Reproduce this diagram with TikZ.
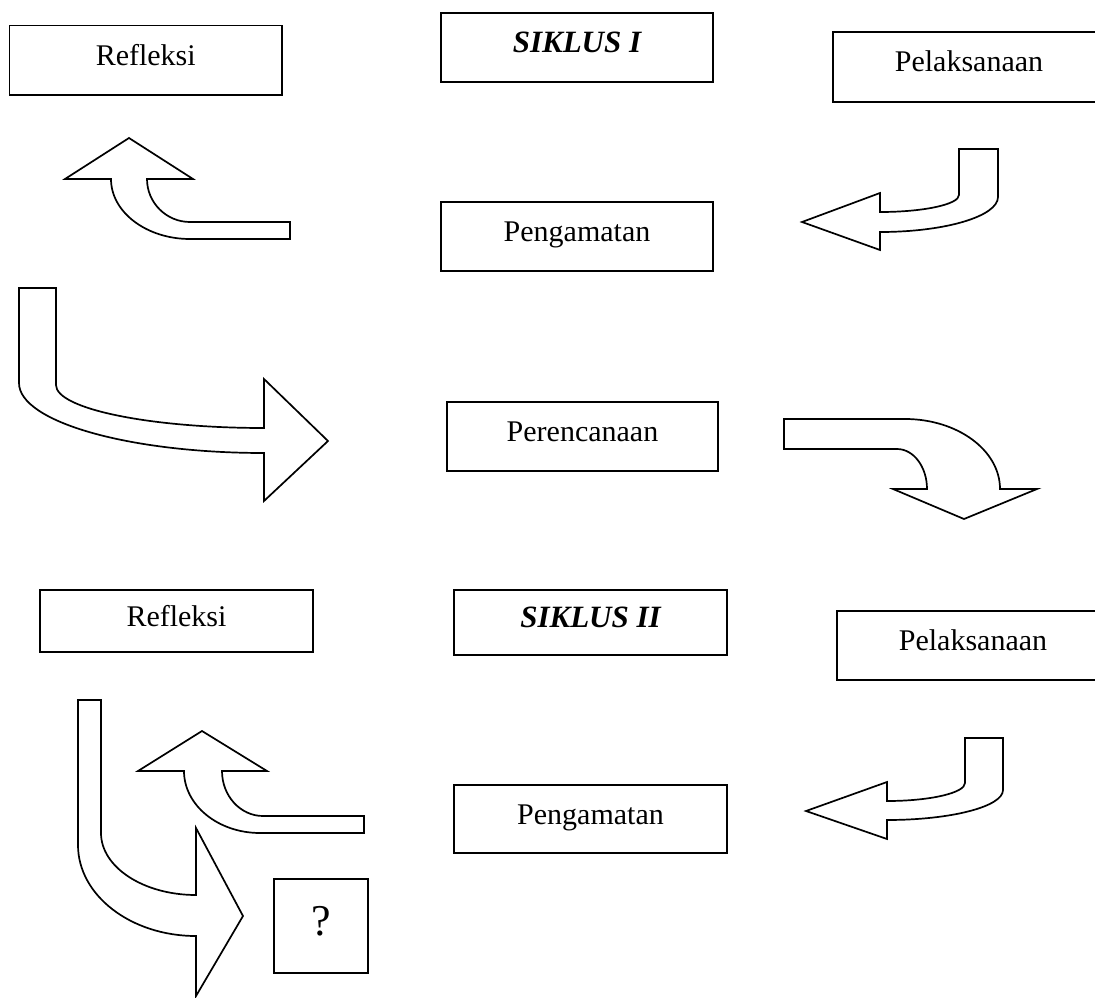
\documentclass[tikz,border=0pt]{standalone}
\usepackage{fontspec}
\setmainfont{Liberation Serif}
\begin{document}
\begin{tikzpicture}[x=1pt,y=-1pt,
  box/.style={draw, line width=1.7pt, inner sep=0pt, outer sep=0pt,
    text height=20pt, text depth=10pt, font=\fontsize{30}{36}\selectfont},
  titlebox/.style={box, font=\fontsize{31}{36}\selectfont\bfseries\itshape},
  qbox/.style={box, text height=30pt, text depth=12pt, font=\fontsize{44}{50}\selectfont},
  blockarrow/.style={draw, line width=1.7pt, fill=white, line join=miter}]
\useasboundingbox (0,0) rectangle (1095,998);
\clip (0,0) rectangle (1095,998);

% ---- Siklus I boxes
\node[box, minimum width=272.5pt, minimum height=69.5pt] (refl1) at (145.75,60.25) {Refleksi};
\node[titlebox, minimum width=272pt, minimum height=69pt] (sik1) at (577,47.2) {SIKLUS I};
\node[box, minimum width=272pt, minimum height=70pt] (pel1) at (969,67) {Pelaksanaan};
\node[box, minimum width=272pt, minimum height=69pt] (peng1) at (577,236.5) {Pengamatan};
\node[box, minimum width=271pt, minimum height=69pt] (renc) at (582.5,436.5) {Perencanaan};

% ---- Siklus II boxes
\node[box, minimum width=273pt, minimum height=62pt] (refl2) at (176.5,621) {Refleksi};
\node[titlebox, minimum width=273pt, minimum height=65pt] (sik2) at (590.5,622.5) {SIKLUS II};
\node[box, minimum width=272pt, minimum height=69pt] (pel2) at (973,645.5) {Pelaksanaan};
\node[box, minimum width=273pt, minimum height=68pt] (peng2) at (590.5,819) {Pengamatan};
\node[qbox, minimum width=94pt, minimum height=94pt] (q) at (321,926) {?};

% ---- Arrow 1: up-curved (Pengamatan -> Refleksi)
\draw[blockarrow] (129,138) -- (193,179) -- (147,179)
  .. controls (147,202.7) and (166.3,222) .. (190,222)
  -- (290,222) -- (290,239) -- (190,239)
  .. controls (146.4,239) and (111,212.1) .. (111,179)
  -- (65,179) -- cycle;

% ---- Arrow 2: left-curved (Pelaksanaan -> Pengamatan)
\draw[blockarrow] (959,149) -- (998,149) -- (998,197)
  .. controls (998,216.3) and (945.2,232) .. (880,232)
  -- (880,250) -- (802,222) -- (880,193) -- (880,212)
  .. controls (923.6,212) and (959,204.4) .. (959,195)
  -- cycle;

% ---- Arrow 3: big down-right (Refleksi -> Perencanaan)
\draw[blockarrow] (19,288) -- (56,288) -- (56,385)
  .. controls (56,408.7) and (149.1,428) .. (264,428)
  -- (264,379) -- (328,441) -- (264,501) -- (264,453)
  .. controls (128.7,453) and (19,421.7) .. (19,383)
  -- cycle;

% ---- Arrow 4: right-down (Perencanaan -> Siklus II)
\draw[blockarrow] (784,419) -- (905,419)
  .. controls (957.5,419) and (1000,450.3) .. (1000,489)
  -- (1037,489) -- (964,519) -- (893,489) -- (927,489)
  .. controls (927,466.9) and (913.6,449) .. (897,449)
  -- (784,449) -- cycle;

% ---- Arrow 5: up-curved (Pengamatan II -> Refleksi II)
\draw[blockarrow] (202,731) -- (267,771) -- (222,771)
  .. controls (222,795.9) and (240.4,816) .. (263,816)
  -- (364,816) -- (364,833) -- (260,833)
  .. controls (218,833) and (184,805.2) .. (184,771)
  -- (138,771) -- cycle;

% ---- Arrow 6: big down-right (Refleksi II -> ?)
\draw[blockarrow] (78,700) -- (101,700) -- (101,833)
  .. controls (101,867.2) and (143.5,895) .. (196,895)
  -- (196,828) -- (243,916) -- (196,996) -- (196,936)
  .. controls (130.8,936) and (78,895.3) .. (78,845)
  -- cycle;

% ---- Arrow 7: left-curved (Pelaksanaan II -> Pengamatan II)
\draw[blockarrow] (965,738) -- (1003,738) -- (1003,790)
  .. controls (1003,806.6) and (951.1,820) .. (887,820)
  -- (887,839) -- (806,811) -- (887,782) -- (887,801)
  .. controls (930.1,801) and (965,792.9) .. (965,783)
  -- cycle;
\end{tikzpicture}
\end{document}
